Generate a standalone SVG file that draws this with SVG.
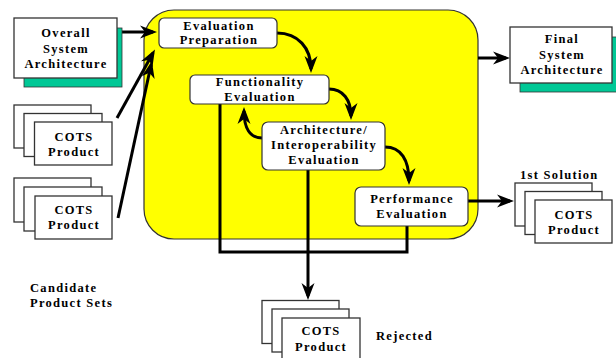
<svg xmlns="http://www.w3.org/2000/svg" width="616" height="358" viewBox="0 0 616 358">
  <style>
    .lbl { font-family: 'Liberation Serif', 'DejaVu Serif', serif; font-weight: 700; font-size: 12.5px; letter-spacing: 1.3px; fill: #000; text-anchor: middle; }
    .cap { font-family: 'Liberation Serif', 'DejaVu Serif', serif; font-weight: 700; font-size: 12.5px; letter-spacing: 1.3px; fill: #000; }
    .box { fill: #fff; stroke: #333; stroke-width: 1.3; }
    .step { fill: #fff; stroke: #333; stroke-width: 1.2; }
    .shadow { fill: #00C896; stroke: #333; stroke-width: 0.8; }
    .flow { fill: none; stroke: #000; stroke-width: 3; }
    .wire { fill: none; stroke: #000; stroke-width: 3; stroke-linejoin: miter; }
  </style>
  <defs>
    <marker id="head" markerUnits="userSpaceOnUse" markerWidth="18" markerHeight="13" refX="13" refY="6.5" orient="auto" overflow="visible">
      <path d="M0,0 L17,6.5 L0,13 L5,6.5 z" fill="#000"/>
    </marker>
  </defs>

  <!-- process region -->
  <g id="process">
    <rect x="144" y="10" width="334" height="229" rx="30" ry="30" fill="#FFFF00" stroke="#333" stroke-width="1.2"/>
  </g>

  <!-- connectors -->
  <g id="connectors">
    <line class="flow" x1="117" y1="32" x2="153" y2="32" marker-end="url(#head)"/>
    <line class="flow" x1="117" y1="118" x2="153" y2="53" marker-end="url(#head)"/>
    <line class="flow" x1="118" y1="218" x2="151" y2="65" marker-end="url(#head)"/>
    <path class="flow" d="M277,33 C298,33 311,48 311,69" marker-end="url(#head)"/>
    <path class="flow" d="M329,89 C343,89 351,100 351,116" marker-end="url(#head)"/>
    <path class="flow" d="M385,147 C401,147 409,160 409,181" marker-end="url(#head)"/>
    <path class="flow" d="M262,138 C250,138 244,128 244,111" marker-end="url(#head)"/>
    <line class="flow" x1="478" y1="58" x2="506" y2="58" marker-end="url(#head)"/>
    <line class="flow" x1="468" y1="201" x2="510" y2="201" marker-end="url(#head)"/>
    <polyline class="wire" points="220,104 220,252 407,252 407,226"/>
    <line class="flow" x1="308" y1="170" x2="308" y2="296" marker-end="url(#head)"/>
  </g>

  <g id="overall-architecture">
    <rect class="shadow" x="24" y="28" width="98" height="59"/>
    <rect class="box" x="14" y="18" width="103" height="60"/>
    <text class="lbl" x="66" y="37">Overall</text>
    <text class="lbl" x="66" y="52.5">System</text>
    <text class="lbl" x="66" y="68">Architecture</text>
  </g>

  <g id="final-architecture">
    <rect class="shadow" x="520" y="37" width="97" height="55"/>
    <rect class="box" x="510" y="27" width="102" height="56"/>
    <text class="lbl" x="562" y="43">Final</text>
    <text class="lbl" x="562" y="58.5">System</text>
    <text class="lbl" x="562" y="74">Architecture</text>
  </g>

  <g id="evaluation-preparation">
    <rect class="step" x="159" y="18" width="118" height="30" rx="5"/>
    <text class="lbl" x="219" y="29.5">Evaluation</text>
    <text class="lbl" x="219" y="44">Preparation</text>
  </g>

  <g id="functionality-evaluation">
    <rect class="step" x="190" y="75" width="139" height="29" rx="5"/>
    <text class="lbl" x="260" y="86">Functionality</text>
    <text class="lbl" x="260" y="101">Evaluation</text>
  </g>

  <g id="interoperability-evaluation">
    <rect class="step" x="262" y="122" width="123" height="48" rx="6"/>
    <text class="lbl" x="324" y="134">Architecture/</text>
    <text class="lbl" x="324" y="149">Interoperability</text>
    <text class="lbl" x="324" y="164">Evaluation</text>
  </g>

  <g id="performance-evaluation">
    <rect class="step" x="355" y="187" width="113" height="39" rx="6"/>
    <text class="lbl" x="412" y="203">Performance</text>
    <text class="lbl" x="412" y="218">Evaluation</text>
  </g>

  <g id="candidate-set-1">
    <rect class="box" x="14" y="105" width="77" height="43"/>
    <rect class="box" x="24" y="113.5" width="78" height="43"/>
    <rect class="box" x="34.5" y="122" width="77.5" height="43"/>
    <text class="lbl" x="74" y="141">COTS</text>
    <text class="lbl" x="74" y="156">Product</text>
  </g>

  <g id="candidate-set-2">
    <rect class="box" x="14" y="178" width="77" height="44"/>
    <rect class="box" x="24" y="187" width="78" height="44"/>
    <rect class="box" x="35" y="196" width="77" height="43"/>
    <text class="lbl" x="74" y="213.5">COTS</text>
    <text class="lbl" x="74" y="229">Product</text>
  </g>

  <g id="first-solution">
    <rect class="box" x="515" y="183" width="77" height="43"/>
    <rect class="box" x="525" y="191.5" width="77" height="43"/>
    <rect class="box" x="535" y="200" width="77" height="43"/>
    <text class="lbl" x="574" y="219">COTS</text>
    <text class="lbl" x="574" y="234">Product</text>
  </g>

  <g id="rejected-set">
    <rect class="box" x="262" y="300.5" width="77" height="43"/>
    <rect class="box" x="272" y="309" width="77" height="43"/>
    <rect class="box" x="282" y="318" width="78" height="43"/>
    <text class="lbl" x="321" y="335">COTS</text>
    <text class="lbl" x="321" y="350.5">Product</text>
  </g>

  <g id="captions">
    <text class="cap" x="30" y="291.5">Candidate</text>
    <text class="cap" x="30" y="307">Product Sets</text>
    <text class="cap" x="520" y="179">1st Solution</text>
    <text class="cap" x="376" y="340">Rejected</text>
  </g>
</svg>
